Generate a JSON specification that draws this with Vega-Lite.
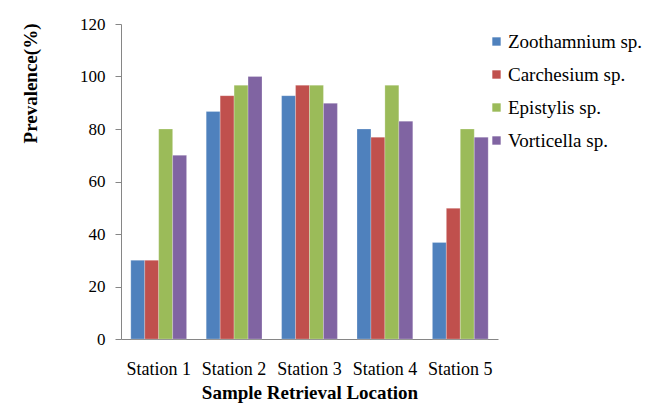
{
  "$schema": "https://vega.github.io/schema/vega-lite/v6.json",
  "width": 377,
  "height": 315,
  "autosize": {"type": "none"},
  "padding": {"left": 121, "top": 24, "right": 161, "bottom": 66},
  "background": "white",
  "config": {
    "view": {"stroke": null},
    "font": "Liberation Serif",
    "axis": {"labelFont": "Liberation Serif", "titleFont": "Liberation Serif", "labelColor": "black", "titleColor": "black", "domainColor": "#868686", "tickColor": "#868686", "grid": false},
    "legend": {"labelFont": "Liberation Serif"}
  },
  "data": {
    "values": [
      {"station": "Station 1", "species": "Zoothamnium sp.", "value": 30},
      {"station": "Station 1", "species": "Carchesium sp.", "value": 30},
      {"station": "Station 1", "species": "Epistylis sp.", "value": 80},
      {"station": "Station 1", "species": "Vorticella sp.", "value": 70},
      {"station": "Station 2", "species": "Zoothamnium sp.", "value": 86.7},
      {"station": "Station 2", "species": "Carchesium sp.", "value": 92.7},
      {"station": "Station 2", "species": "Epistylis sp.", "value": 96.7},
      {"station": "Station 2", "species": "Vorticella sp.", "value": 100},
      {"station": "Station 3", "species": "Zoothamnium sp.", "value": 92.7},
      {"station": "Station 3", "species": "Carchesium sp.", "value": 96.7},
      {"station": "Station 3", "species": "Epistylis sp.", "value": 96.7},
      {"station": "Station 3", "species": "Vorticella sp.", "value": 89.8},
      {"station": "Station 4", "species": "Zoothamnium sp.", "value": 80},
      {"station": "Station 4", "species": "Carchesium sp.", "value": 76.9},
      {"station": "Station 4", "species": "Epistylis sp.", "value": 96.7},
      {"station": "Station 4", "species": "Vorticella sp.", "value": 83},
      {"station": "Station 5", "species": "Zoothamnium sp.", "value": 36.8},
      {"station": "Station 5", "species": "Carchesium sp.", "value": 49.8},
      {"station": "Station 5", "species": "Epistylis sp.", "value": 80},
      {"station": "Station 5", "species": "Vorticella sp.", "value": 76.9}
    ]
  },
  "mark": {"type": "bar", "stroke": "white", "strokeWidth": 0.4, "strokeOpacity": 0.6},
  "encoding": {
    "x": {
      "field": "station", "type": "nominal",
      "scale": {"paddingInner": 0.26, "paddingOuter": 0.13},
      "axis": {
        "title": "Sample Retrieval Location", "labelAngle": 0, "ticks": false,
        "labelFontSize": 18, "labelPadding": 21,
        "titleFontSize": 19, "titleFontWeight": "bold", "titleY": 53, "titleBaseline": "middle"
      }
    },
    "xOffset": {
      "field": "species", "type": "nominal",
      "sort": ["Zoothamnium sp.", "Carchesium sp.", "Epistylis sp.", "Vorticella sp."],
      "scale": {"paddingInner": 0, "paddingOuter": 0}
    },
    "y": {
      "field": "value", "type": "quantitative",
      "scale": {"domain": [0, 120], "nice": false},
      "axis": {
        "title": "Prevalence(%)", "values": [0, 20, 40, 60, 80, 100, 120],
        "tickSize": 6, "labelPadding": 10, "labelFontSize": 17,
        "titleFontSize": 19, "titleFontWeight": "bold",
        "titleAngle": -90, "titleX": -91, "titleY": 59, "titleAlign": "center", "titleBaseline": "middle"
      }
    },
    "color": {
      "field": "species", "type": "nominal",
      "sort": ["Zoothamnium sp.", "Carchesium sp.", "Epistylis sp.", "Vorticella sp."],
      "scale": {"range": ["#4F81BD", "#C0504D", "#9BBB59", "#8064A2"]},
      "legend": {
        "title": null, "orient": "none", "legendX": 366, "legendY": 8, "padding": 0,
        "symbolType": "square", "symbolSize": 70, "symbolStrokeWidth": 0,
        "labelFontSize": 19, "labelOffset": 2, "rowPadding": 13, "labelLimit": 200
      }
    }
  }
}
